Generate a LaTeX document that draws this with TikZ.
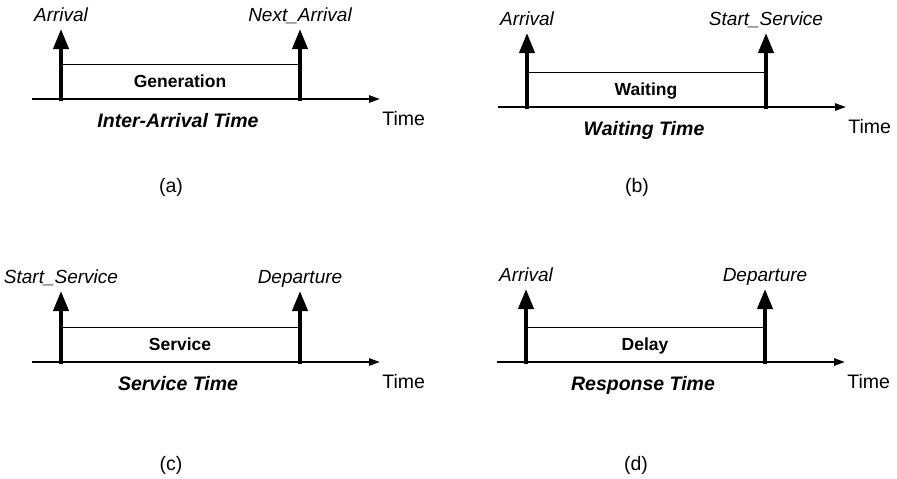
\documentclass[tikz,border=0pt]{standalone}
\usepackage{fontspec}
\setmainfont{Liberation Sans}
\usepackage{tikz}
\usetikzlibrary{arrows.meta,positioning,calc}
\tikzset{
    eventarrow/.style={-{Triangle[length=10pt,width=7.5pt]},line width=2pt},
    timeaxis/.style={-{Triangle[length=5.5pt,width=3.6pt]},line width=1pt},
    spanline/.style={line width=0.5pt},
    eventlabel/.style={anchor=base,inner sep=0pt,
      font=\fontsize{9.5}{11}\selectfont\itshape},
    spanlabel/.style={anchor=base,inner sep=0pt,
      font=\fontsize{8.75}{10}\selectfont\bfseries},
    spantitle/.style={anchor=base,inner sep=0pt,
      font=\fontsize{9.75}{11}\selectfont\bfseries\itshape},
    axislabel/.style={anchor=base west,inner sep=0pt,
      font=\fontsize{9.75}{11}\selectfont},
    panelcap/.style={anchor=base,inner sep=0pt,
      font=\fontsize{9.75}{11}\selectfont}
}

\begin{document}
\begin{tikzpicture}[x=0.5pt,y=-0.5pt]
  \useasboundingbox (0,0) rectangle (897,478);
  \foreach \p/\ox/\ay/\h/\tagy/\lft/\rgt/\what/\title in {
      a/61/99/70/192/Arrival/Next\_Arrival/Generation/Inter-Arrival Time,
      b/527/107/74/192/Arrival/Start\_Service/Waiting/Waiting Time,
      c/61/362/71/470/Start\_Service/Departure/Service/Service Time,
      d/526/362/73/470/Arrival/Departure/Delay/Response Time}{
    % axis ends, event feet and tips
    \coordinate (ax-s-\p) at (\ox-29,\ay);
    \coordinate (ax-e-\p) at (\ox+319,\ay);
    \coordinate (ev1-\p) at (\ox,\ay+1.5);
    \coordinate (ev2-\p) at (\ox+239,\ay+1.5);
    \coordinate (tip1-\p) at (\ox,\ay-\h);
    \coordinate (tip2-\p) at (\ox+239,\ay-\h);
    \coordinate (sp1-\p) at (\ox,\ay-35);
    \coordinate (sp2-\p) at (\ox+239,\ay-35);
    \draw[spanline] (sp1-\p) -- (sp2-\p);
    \draw[timeaxis] (ax-s-\p) -- (ax-e-\p);
    \draw[eventarrow] (ev1-\p) -- (tip1-\p);
    \draw[eventarrow] (ev2-\p) -- (tip2-\p);
    % texts
    \node[eventlabel] (name1-\p) at (\ox,\ay-\h-8) {\lft};
    \node[eventlabel] (name2-\p) at (\ox+239,\ay-\h-8) {\rgt};
    \node[spanlabel] (span-\p) at (\ox+119,\ay-12) {\what};
    \node[spantitle] (title-\p) at (\ox+117,\ay+28) {\title};
    \node[axislabel] (time-\p) at (\ox+321,\ay+26) {Time};
    \node[panelcap] (cap-\p) at (\ox+110,\tagy) {(\p)};
  }
\end{tikzpicture}
\end{document}
